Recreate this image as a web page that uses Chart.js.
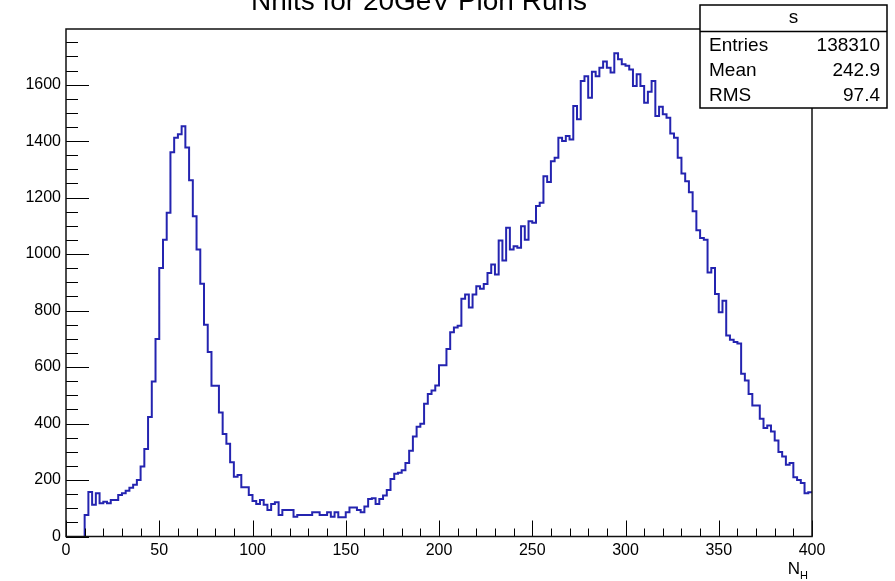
<!DOCTYPE html>
<html>
<head>
<meta charset="utf-8">
<title>Nhits for 20GeV Pion Runs</title>
<script src="https://cdn.jsdelivr.net/npm/chart.js@4.4.1/dist/chart.umd.min.js"></script>
<style>
    html, body { margin: 0; padding: 0; background: #fff; }
</style>
</head>
<body>
<canvas id="myChart" width="895" height="581"></canvas>
<script>
// histogram "s": 2-unit bins starting at N_H = 10
var binStart = 10;
var binWidth = 2;
var counts = [
    76, 158, 112, 153, 118, 123, 118, 129, 129, 147, 153, 162, 173, 183, 200, 248, 310, 423, 549, 699,
    951, 1051, 1146, 1361, 1412, 1424, 1453, 1377, 1261, 1134, 1016, 895,
    750, 653, 534, 534, 439, 363, 328, 263, 212, 218, 174, 174, 147, 126, 115, 129, 112,
    94, 115, 121, 76, 94, 94, 94, 70, 76, 76, 76, 76, 86, 86, 76, 76, 86, 70, 86, 68,
    68, 86, 103, 103, 94, 86, 106, 133, 135, 115, 133, 145, 165, 204, 222, 226,
    235, 260, 304, 354, 389, 399, 470, 505, 517, 535,
    606, 606, 664, 723, 740, 746, 842, 857, 811, 857, 886, 877, 894, 933, 963, 928,
    1048, 977, 1093, 1016, 1028, 1022, 1099, 1051,
    1116, 1111, 1170, 1182, 1276, 1255, 1329, 1341, 1412, 1400, 1418, 1406,
    1524, 1477, 1613, 1630, 1554, 1646, 1630, 1660, 1682, 1660, 1643, 1711, 1690, 1672,
    1667, 1654, 1595, 1637, 1595, 1536, 1575, 1613, 1489, 1522, 1495, 1483, 1427, 1412, 1341,
    1285, 1258, 1219, 1152, 1084, 1057, 1051, 935, 951, 859, 794, 835, 712, 697, 689, 683,
    576, 552, 505, 464, 464, 417, 384, 393, 372, 340, 299, 283, 254, 260, 210, 200, 189, 153, 157
];

var xRange = [0, 400];
var yRange = [0, 1797];
var xTickLabels = [0, 50, 100, 150, 200, 250, 300, 350, 400];
var yTickLabels = [0, 200, 400, 600, 800, 1000, 1200, 1400, 1600];
var xMinor = 10;
var yMinor = 50;

var titleText = 'Nhits for 20GeV Pion Runs';
var statsName = 's';
var statsLabels = ['Entries', 'Mean', 'RMS'];
var statsValues = ['138310', '242.9', '97.4'];

var FONT = '"Liberation Sans", Arial, Helvetica, sans-serif';

// outline of the histogram: left and right edge of every bin
function histPoints()
{
    var pts = [{x: binStart, y: 0}];
    counts.forEach(function (c, i) {
        var lo = binStart + i * binWidth;
        pts.push({x: lo, y: c});
        pts.push({x: lo + binWidth, y: c});
    });
    return pts;
}

function fixedTicks(list)
{
    return function (scale) {
        scale.ticks = list.map(function (v) { return {value: v}; });
    };
}

var rootStyle = {
    id: 'rootStyle',
    afterDraw: function (chart)
    {
        var ctx = chart.ctx;
        var a = chart.chartArea;
        var xs = chart.scales.x, ys = chart.scales.y;
        var v, p, len;

        ctx.save();
        ctx.strokeStyle = '#000';
        ctx.lineWidth = 1;

        // ticks inside the frame
        ctx.beginPath();
        for (v = xRange[0]; v <= xRange[1]; v += xMinor) {
            p = Math.round(xs.getPixelForValue(v)) + 0.5;
            len = (xTickLabels.indexOf(v) >= 0) ? 16 : 8;
            ctx.moveTo(p, a.bottom);
            ctx.lineTo(p, a.bottom - len);
        }
        for (v = yRange[0]; v <= yRange[1]; v += yMinor) {
            p = Math.round(ys.getPixelForValue(v)) + 0.5;
            len = (yTickLabels.indexOf(v) >= 0) ? 23 : 12;
            ctx.moveTo(a.left, p);
            ctx.lineTo(a.left + len, p);
        }
        ctx.stroke();

        // frame
        ctx.lineWidth = 1.5;
        ctx.strokeStyle = '#111';
        ctx.strokeRect(a.left, a.top, a.right - a.left, a.bottom - a.top);

        // title, cut by the top of the pad
        ctx.fillStyle = '#000';
        ctx.font = '28px ' + FONT;
        ctx.textAlign = 'center';
        ctx.textBaseline = 'alphabetic';
        ctx.fillText(titleText, 419, 10);

        // axis title N_H
        ctx.font = '17px ' + FONT;
        ctx.textAlign = 'right';
        ctx.fillText('N', 800, 574);
        ctx.font = '11px ' + FONT;
        ctx.textAlign = 'left';
        ctx.fillText('H', 800, 579);

        // stats box
        var bx = 700, by = 5, bw = 187, bh = 103;
        ctx.fillStyle = '#fff';
        ctx.fillRect(bx, by, bw, bh);
        ctx.lineWidth = 1.5;
        ctx.strokeStyle = '#000';
        ctx.strokeRect(bx, by, bw, bh);
        ctx.beginPath();
        ctx.moveTo(bx, 31.5);
        ctx.lineTo(bx + bw, 31.5);
        ctx.stroke();

        ctx.fillStyle = '#000';
        ctx.font = '19px ' + FONT;
        ctx.textBaseline = 'middle';
        ctx.textAlign = 'center';
        ctx.fillText(statsName, bx + bw / 2, 18);
        statsLabels.forEach(function (lab, i) {
            var ty = 46 + i * 25;
            ctx.textAlign = 'left';
            ctx.fillText(lab, bx + 9, ty);
            ctx.textAlign = 'right';
            ctx.fillText(statsValues[i], bx + bw - 7, ty);
        });
        ctx.restore();
    }
};

var ctx = document.getElementById('myChart').getContext('2d');
var myChart = new Chart(ctx, {
    type: 'line',
    data: {
        datasets: [{
            data: histPoints(),
            borderColor: 'rgb(36, 36, 176)',
            borderWidth: 2,
            pointRadius: 0,
            fill: false,
            tension: 0
        }]
    },
    options: {
        responsive: false,
        animation: false,
        devicePixelRatio: 1,
        layout: {padding: {left: 0, top: 29, right: 83, bottom: 0}},
        plugins: {
            legend: {display: false},
            tooltip: {enabled: false}
        },
        scales: {
            x: {
                type: 'linear',
                min: xRange[0],
                max: xRange[1],
                grid: {display: false, drawTicks: false},
                border: {display: false},
                afterBuildTicks: fixedTicks(xTickLabels),
                ticks: {
                    padding: 4,
                    color: '#000',
                    font: {family: FONT, size: 16},
                    maxRotation: 0,
                    autoSkip: false,
                    callback: function (v) { return String(v); }
                },
                afterFit: function (s) { s.height = 44.5; }
            },
            y: {
                type: 'linear',
                min: yRange[0],
                max: yRange[1],
                grid: {display: false, drawTicks: false},
                border: {display: false},
                afterBuildTicks: fixedTicks(yTickLabels),
                ticks: {
                    padding: 5,
                    color: '#000',
                    font: {family: FONT, size: 16},
                    autoSkip: false,
                    callback: function (v) { return String(v); }
                },
                afterFit: function (s) { s.width = 66; }
            }
        }
    },
    plugins: [rootStyle]
});
</script>
</body>
</html>
